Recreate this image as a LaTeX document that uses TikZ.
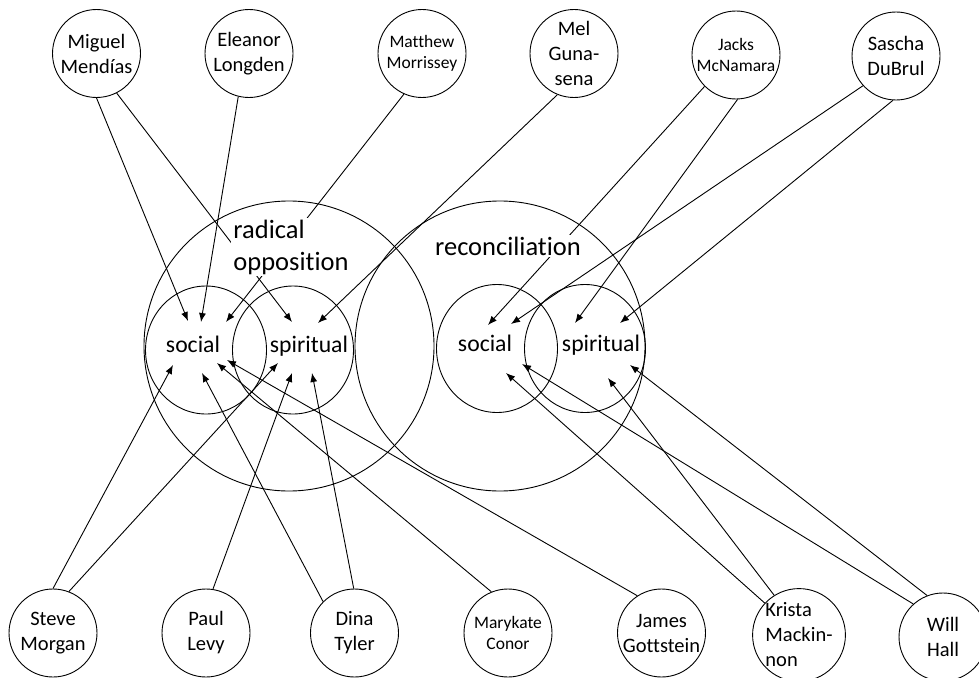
\documentclass[tikz,border=0pt]{standalone}
\usepackage{fontspec}
\setmainfont{Carlito}[Ligatures=NoCommon]
\usetikzlibrary{arrows.meta,shapes.geometric}

\tikzset{
    person/.style={draw, circle, minimum size=88, inner sep=0, align=center, font=\fontsize{20.5}{25}\selectfont},
    smallname/.style={font=\fontsize{17.5}{21}\selectfont},
    sphere/.style={draw, circle, minimum size=290, inner sep=0},
    part/.style={draw, ellipse, minimum width=121, minimum height=128, inner sep=0},
    word/.style={font=\fontsize{23.7}{28}\selectfont, anchor=base, inner sep=0},
    heading/.style={font=\fontsize{26.5}{32}\selectfont, fill=white, inner sep=2pt},
    link/.style={-{Latex[length=9pt,width=7pt]}}
}

\begin{document}
\begin{tikzpicture}[x=1pt,y=-1pt,line width=0.9pt]
        \useasboundingbox (0,0) rectangle (979,677);

        \node [sphere] (radical) at (289,346) {};
        \node [sphere] (reconc) at (500,346) {};
        \node [part] (lsocial) at (206,350) {};
        \node [part] (lspirit) at (293,350) {};
        \node [part] (rsocial) at (497,348.5) {};
        \node [part] (rspirit) at (585,348.5) {};

        \node [person] (miguel) at (96.5,53.5) {Miguel\\Mendías};
        \node [person] (eleanor) at (249,53.5) {Eleanor\\Longden};
        \node [person, smallname] (matthew) at (422,53.5) {Matthew\\Morrissey};
        \node [person] (mel) at (574,53.5) {Mel\\Guna-\\sena};
        \node [person, smallname] (jacks) at (736,55) {Jacks\\McNamara};
        \node [person] (sascha) at (896,56) {Sascha\\DuBrul};

        \node [person] (steve) at (53,633) {Steve\\Morgan};
        \node [person] (paul) at (206,633) {Paul\\Levy};
        \node [person] (dina) at (354.5,633) {Dina\\Tyler};
        \node [person, smallname] (marykate) at (508,633) {Marykate\\Conor};
        \node [person] (james) at (661.5,633) {James\\Gottstein};
        \node [person, align=left] (krista) at (799,635) {Krista\\Mackin-\\non};
        \node [person] (will) at (943,637) {Will\\Hall};

        \coordinate (lso1) at (188,321);
        \coordinate (lso2) at (201,322);
        \coordinate (lso3) at (226,322);
        \coordinate (lso4) at (173,365);
        \coordinate (lso5) at (202,373);
        \coordinate (lso6) at (217,363);
        \coordinate (lso7) at (227,360);
        \coordinate (lsp1) at (292,322);
        \coordinate (lsp2) at (318,323);
        \coordinate (lsp3) at (278,363);
        \coordinate (lsp4) at (292,373);
        \coordinate (lsp5) at (312,373);
        \coordinate (rso1) at (488,325);
        \coordinate (rso2) at (511,324);
        \coordinate (rso3) at (506,373);
        \coordinate (rso4) at (522,364);
        \coordinate (rsp1) at (575,323);
        \coordinate (rsp2) at (620,323);
        \coordinate (rsp3) at (608,378);
        \coordinate (rsp4) at (630,365);

        \draw [link] (miguel.270) -- (lso1);
        \draw [link] (miguel.297) -- (lsp1);
        \draw [link] (eleanor.256) -- (lso2);
        \draw [link] (matthew.246) -- (lso3);
        \draw [link] (mel.248) -- (lsp2);
        \draw [link] (jacks.225) -- (rso1);
        \draw [link] (jacks.272) -- (rsp1);
        \draw [link] (sascha.222) -- (rso2);
        \draw [link] (sascha.266) -- (rsp2);
        \draw [link] (steve.90) -- (lso4);
        \draw [link] (steve.69) -- (lsp3);
        \draw [link] (paul.81) -- (lsp4);
        \draw [link] (dina.135) -- (lso5);
        \draw [link] (dina.91) -- (lsp5);
        \draw [link] (marykate.112) -- (lso6);
        \draw [link] (james.123) -- (lso7);
        \draw [link] (krista.137) -- (rso3);
        \draw [link] (krista.122) -- (rsp3);
        \draw [link] (will.132) -- (rso4);
        \draw [link] (will.111) -- (rsp4);

        \node [word] (lsoctext) at (193,352) {social};
        \node [word] (lspitext) at (309,352) {spiritual};
        \node [word] (rsoctext) at (485,351) {social};
        \node [word] (rspitext) at (601,351) {spiritual};
        \node [heading, align=left, anchor=base west] (radlabel) at (231,270) {radical\\opposition};
        \node [heading, anchor=base] (reclabel) at (508,255) {reconciliation};
    \end{tikzpicture}
\end{document}
